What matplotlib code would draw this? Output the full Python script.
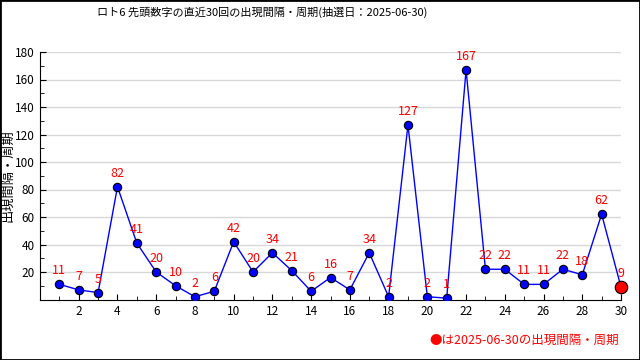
import matplotlib
matplotlib.use('Agg')
import matplotlib.pyplot as plt
from matplotlib.patches import Rectangle
from matplotlib.ticker import MultipleLocator

plt.rcParams['font.family'] = ['Noto Sans CJK JP', 'DejaVu Sans']

# data
draws = list(range(1, 31))
gaps = [11, 7, 5, 82, 41, 20, 10, 2, 6, 42, 20, 34, 21, 6, 16, 7, 34, 2, 127, 2,
        1, 167, 22, 22, 11, 11, 22, 18, 62, 9]
title = 'ロト6 先頭数字の直近30回の出現間隔・周期(抽選日：2025-06-30)'
ylabel = '出現間隔・周期'
note = '●は2025-06-30の出現間隔・周期'

fig = plt.figure(figsize=(6.4, 3.6), dpi=100)
ax = fig.add_axes([40/640, 60.5/360, 581/640, 247.5/360])

ax.plot(draws, gaps, color='#0000ff', lw=1, zorder=3)
ax.plot(draws[:-1], gaps[:-1], 'o', color='#0000ff', mec='black', mew=0.8, ms=6, zorder=4)
ax.plot(draws[-1], gaps[-1], 'o', color='red', mec='black', mew=0.8, ms=9, zorder=5, clip_on=False)

for x, y in zip(draws, gaps):
    ax.annotate(str(y), (x, y), xytext=(0, 5), textcoords='offset points',
                ha='center', va='bottom', color='red', fontsize=9, zorder=6)

ax.set_xlim(0, 30)
ax.set_ylim(0, 180)
ax.set_xticks(range(2, 31, 2))
ax.set_yticks(range(20, 181, 20))
ax.xaxis.set_minor_locator(MultipleLocator(1))
ax.yaxis.set_minor_locator(MultipleLocator(10))
ax.tick_params(which='both', direction='in', labelsize=8.5, pad=4)
ax.tick_params(which='major', length=4)
ax.tick_params(which='minor', length=3)
ax.grid(axis='y', color='#d8d8d8', lw=1)
ax.set_axisbelow(True)
for s in ['top', 'right']:
    ax.spines[s].set_visible(False)

fig.text(97/640, 1 - 12/360, title, ha='left', va='center', fontsize=8)
fig.text(8/640, 1 - 176/360, ylabel, rotation=90, ha='center', va='center', fontsize=9.5)
fig.text(619/640, 1 - 340/360, note, ha='right', va='center', color='red', fontsize=9)

fig.patches.append(Rectangle((0, 0), 1, 1, transform=fig.transFigure, fill=False,
                             edgecolor='black', lw=2))

fig.savefig('out.png', dpi=100)
